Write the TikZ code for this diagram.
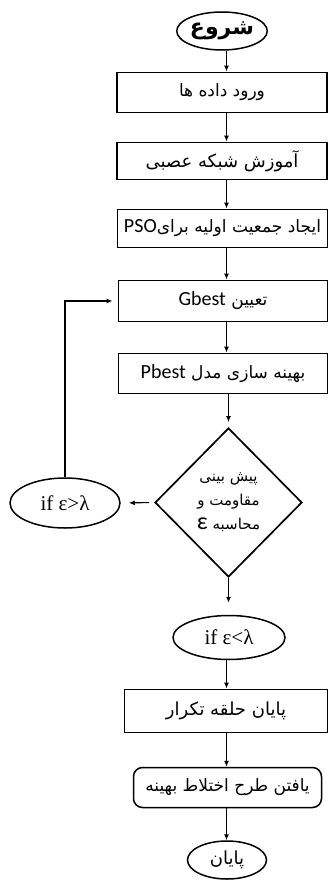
\documentclass[tikz,border=0pt]{standalone}
\usepackage{fontspec}
\TeXXeTstate=1
\newfontfamily\fa[Script=Arabic]{DejaVu Sans}
\newfontfamily\lat{Carlito}
\newfontfamily\ser{Liberation Serif}
\usetikzlibrary{shapes.geometric,arrows.meta}
\newcommand\latw[1]{\beginL{\lat\fontsize{20}{22}\selectfont #1}\endL}
\begin{document}
\begin{tikzpicture}[x=1pt,y=-1pt,
  box/.style={draw, line width=1.9pt, inner sep=0pt, font=\fa\fontsize{17}{20}\selectfont},
  term/.style={draw, ellipse, line width=1.5pt, inner sep=0pt},
  arr/.style={-{Latex[length=6pt,width=5pt]}, line width=1.1pt}]
\useasboundingbox (0,0) rectangle (329,880);
\coordinate (ax) at (226.5,0);

\node[term, minimum width=82pt, minimum height=38pt, font=\fa\bfseries\fontsize{22}{24}\selectfont] (s) at (222,31) {\beginR شروع\endR};
\node[box, minimum width=210pt, minimum height=40pt] (b1) at (222,92.5) {\beginR ورود داده ها\endR};
\node[box, minimum width=210pt, minimum height=37pt] (b2) at (222,161) {\fontsize{18}{20}\selectfont\beginR آموزش شبکه عصبی\endR};
\node[box, minimum width=210pt, minimum height=38pt] (b3) at (222.5,228.5) {\beginR ایجاد جمعیت اولیه برای\latw{PSO}\endR};
\node[box, minimum width=209pt, minimum height=41pt] (b4) at (223,301) {\beginR تعیین \latw{Gbest}\endR};
\node[box, minimum width=209pt, minimum height=40pt] (b5) at (223,373.5) {\beginR بهینه سازی مدل \latw{Pbest}\endR};
\node[draw, diamond, line width=1.7pt, inner sep=0pt, minimum width=147pt, minimum height=149pt, align=center, font=\fa\fontsize{15}{24}\selectfont] (d) at (228.5,502.5)
  {\beginR پیش بینی\endR\\ \beginR مقاومت و\endR\\ \beginR محاسبه \beginL{\lat\fontsize{24}{24}\selectfont ε}\endL\endR};
\node[term, minimum width=110pt, minimum height=50pt, font=\ser\fontsize{21}{23}\selectfont] (l) at (65,503) {if ε>λ};
\node[term, minimum width=112pt, minimum height=44pt, font=\ser\fontsize{21}{23}\selectfont] (r) at (229,637.5) {if ε<λ};
\node[box, minimum width=203pt, minimum height=43pt] (b6) at (226,711) {\fontsize{18}{20}\selectfont\beginR پایان حلقه تکرار\endR};
\node[box, rounded corners=9pt, line width=1.5pt, minimum width=188pt, minimum height=40pt] (b7) at (227.5,787.5) {\beginR یافتن طرح اختلاط بهینه\endR};
\node[term, minimum width=79pt, minimum height=38pt, font=\fa\fontsize{18}{20}\selectfont] (e) at (227,860) {\beginR پایان\endR};

\draw[arr] (ax |- s.south) -- (ax |- b1.north);
\draw[arr] (ax |- b1.south) -- (ax |- b2.north);
\draw[arr] (ax |- b2.south) -- (ax |- b3.north);
\draw[arr] (ax |- b3.south) -- (ax |- b4.north);
\draw[arr] (ax |- b4.south) -- (ax |- b5.north);
\draw[arr, shorten >=5pt] (d.north |- b5.south) -- (d.north);
\draw[arr, shorten <=5pt, shorten >=8pt] (d.west) -- (l.east);
\draw[arr, shorten >=5pt] (l.north) |- (b4.west);
\draw[arr, shorten >=12pt] (d.south) -- (d.south |- r.north);
\draw[arr] (ax |- r.south) -- (ax |- b6.north);
\draw[arr] (ax |- b6.south) -- (ax |- b7.north);
\draw[arr] (ax |- b7.south) -- (ax |- e.north);
\end{tikzpicture}
\end{document}
